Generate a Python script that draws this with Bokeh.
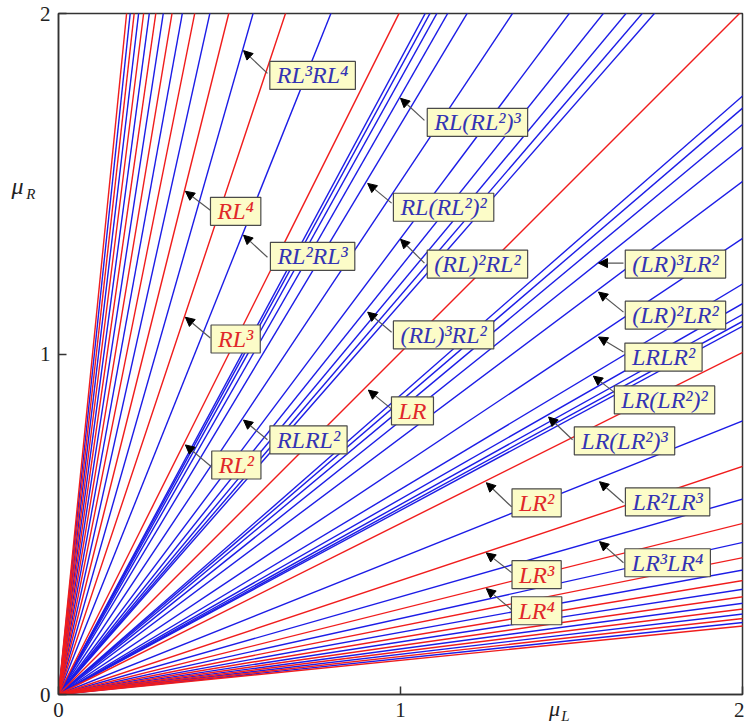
import numpy as np
from bokeh.plotting import figure
from bokeh.models import (Range1d, FixedTicker, Label, Arrow, NormalHead,
                          ColumnDataSource, LinearAxis, CustomJSTickFormatter)
from bokeh.embed import file_html
from bokeh.resources import INLINE

# ---------------- data ----------------
# red lines: slope mu_R/mu_L of the words RL^n (n) and LR^n (1/n)
red_slopes = [1, 2, 3, 4, 5, 6, 7, 8, 9, 10,
              1/2, 1/3, 1/4, 1/5, 1/6, 1/7, 1/8, 1/9, 1/10]

# blue lines (lower half): (LR)^k LR^2, LR(LR^2)^k, LR^n LR^(n+1)
blue_low = [2/3, 3/4, 4/5, 5/6, 6/7, 7/8,
            3/5, 4/7, 5/9, 6/11, 7/13,
            2/5, 2/7, 2/9, 2/11, 2/13, 2/15, 2/17, 2/19]
# blue lines (upper half): (RL)^k RL^2, RL(RL^2)^k, RL^n RL^(n+1)
blue_up = [3/2, 4/3, 5/4, 6/5, 7/6, 8/7,
           5/3, 7/4, 9/5, 11/6, 13/7,
           5/2, 7/2, 9/2, 11/2, 13/2, 15/2, 17/2, 19/2]

# annotations: text, colour class, box centre, arrow tip, arrow start
lab_text = ["RL³RL⁴", "RL⁴", "RL²RL³", "RL³", "RL²", "RLRL²",
            "RL(RL²)³", "RL(RL²)²", "(RL)²RL²", "(RL)³RL²",
            "(LR)³LR²", "(LR)²LR²", "LRLR²", "LR(LR²)²", "LR",
            "LR(LR²)³", "LR²", "LR²LR³", "LR³", "LR³LR⁴", "LR⁴"]
lab_red = [False, True, False, True, True, False,
           False, False, False, False,
           False, False, False, False, True,
           False, True, False, True, False, True]
lab_x = [0.743, 0.518, 0.743, 0.518, 0.520, 0.731,
         1.225, 1.126, 1.225, 1.126,
         1.804, 1.804, 1.769, 1.772, 1.035,
         1.655, 1.398, 1.781, 1.398, 1.781, 1.398]
lab_y = [1.818, 1.419, 1.287, 1.044, 0.674, 0.748,
         1.680, 1.431, 1.264, 1.056,
         1.264, 1.114, 0.991, 0.865, 0.833,
         0.745, 0.563, 0.566, 0.352, 0.387, 0.246]
tip_x = [0.541, 0.371, 0.541, 0.371, 0.371, 0.541,
         1.000, 0.904, 1.000, 0.904,
         1.579, 1.579, 1.579, 1.564, 0.906,
         1.433, 1.251, 1.582, 1.251, 1.582, 1.251]
tip_y = [1.891, 1.478, 1.349, 1.108, 0.733, 0.806,
         1.751, 1.501, 1.337, 1.123,
         1.267, 1.182, 1.050, 0.935, 0.894,
         0.815, 0.622, 0.625, 0.416, 0.449, 0.311]
start_x = [0.611, 0.444, 0.611, 0.444, 0.447, 0.611,
           1.070, 0.974, 1.070, 0.974,
           1.652, 1.652, 1.652, 1.635, 0.977,
           1.503, 1.325, 1.652, 1.325, 1.652, 1.325]
start_y = [1.824, 1.422, 1.284, 1.047, 0.669, 0.748,
           1.686, 1.443, 1.267, 1.064,
           1.267, 1.123, 1.006, 0.880, 0.836,
           0.748, 0.551, 0.563, 0.358, 0.387, 0.249]

x_ticks = [0, 1, 2]
y_ticks = [0, 1, 2]
# axis-title anchors (mu and its subscript)
y_title_mu = [1.493]
y_title_sub = [1.470]
x_title_mu = [1.450]
x_title_sub = [1.482]

# ---------------- styles ----------------
RED_LINE = "#f01c1c"
BLUE_LINE = "#1c1ce6"
RED_TEXT = "#e0282a"
BLUE_TEXT = "#3434b4"
BOX_FILL = "#fcfcc8"
BOX_LINE = "#4a4a4a"
SERIF = "Liberation Serif"
INK = "#222222"

p = figure(width=744, height=726, output_backend="svg", toolbar_location=None,
           x_range=Range1d(0, 2), y_range=Range1d(0, 2),
           min_border_left=58, min_border_right=2, min_border_top=13,
           min_border_bottom=31)

p.xgrid.visible = False
p.ygrid.visible = False
p.outline_line_color = "#333333"
p.outline_line_width = 1.5
p.background_fill_color = "white"

for ax, ticks in ((p.xaxis, x_ticks), (p.yaxis, y_ticks)):
    ax.ticker = FixedTicker(ticks=ticks)
    ax.major_tick_in = 8
    ax.major_tick_out = 0
    ax.minor_tick_in = 0
    ax.minor_tick_out = 0
    ax.axis_line_color = "#333333"
    ax.axis_line_width = 1.5
    ax.major_tick_line_color = "#333333"
    ax.major_tick_line_width = 1.5
    ax.major_label_text_font = SERIF
    ax.major_label_text_font_size = "21px"
    ax.major_label_text_color = INK
p.xaxis.major_label_standoff = 8
p.yaxis.major_label_standoff = 8


def title_axis(ticks, text, size, standoff):
    a = LinearAxis(ticker=FixedTicker(ticks=ticks),
                   formatter=CustomJSTickFormatter(code="return '%s';" % text),
                   axis_line_color=None, major_tick_line_color=None,
                   minor_tick_line_color=None, major_tick_in=0,
                   major_tick_out=0, minor_tick_in=0, minor_tick_out=0,
                   major_label_standoff=standoff)
    a.major_label_text_font = SERIF
    a.major_label_text_font_style = "italic"
    a.major_label_text_font_size = size
    a.major_label_text_color = INK
    return a


# y title: subscript R nearest the axis, then mu further left
p.add_layout(title_axis(y_title_sub, "R", "15px", 1), "left")
p.add_layout(title_axis(y_title_mu, "μ", "24px", 0), "left")
# x title: drawn back up into the tick-label band
p.add_layout(title_axis(x_title_mu, "μ", "22px", -24), "below")
p.add_layout(title_axis(x_title_sub, "L", "15px", -16), "below")

# lines through the origin
blue_all = blue_low + blue_up
p.ray(x=[0] * len(blue_all), y=[0] * len(blue_all), length=0,
      angle=list(np.arctan(blue_all)), line_color=BLUE_LINE, line_width=1.4)
p.ray(x=[0] * len(red_slopes), y=[0] * len(red_slopes), length=0,
      angle=list(np.arctan(red_slopes)), line_color=RED_LINE, line_width=1.4)

# arrows
arrow_src = ColumnDataSource(dict(x0=start_x, y0=start_y, x1=tip_x, y1=tip_y))
p.add_layout(Arrow(source=arrow_src, x_start="x0", y_start="y0",
                   x_end="x1", y_end="y1", line_color="#555555", line_width=1.2,
                   end=NormalHead(size=9, fill_color="black",
                                  line_color="black", line_width=1)))

# label boxes
for t, r, x, y in zip(lab_text, lab_red, lab_x, lab_y):
    p.add_layout(Label(x=x, y=y, text=t, text_align="center",
                       text_baseline="middle", text_font=SERIF,
                       text_font_style="italic", text_font_size="24px",
                       text_color=RED_TEXT if r else BLUE_TEXT,
                       background_fill_color=BOX_FILL,
                       border_line_color=BOX_LINE, border_line_width=1.2,
                       padding=dict(top=1, bottom=1, left=7, right=7)))

open("out.html", "w").write(file_html(p, INLINE))
